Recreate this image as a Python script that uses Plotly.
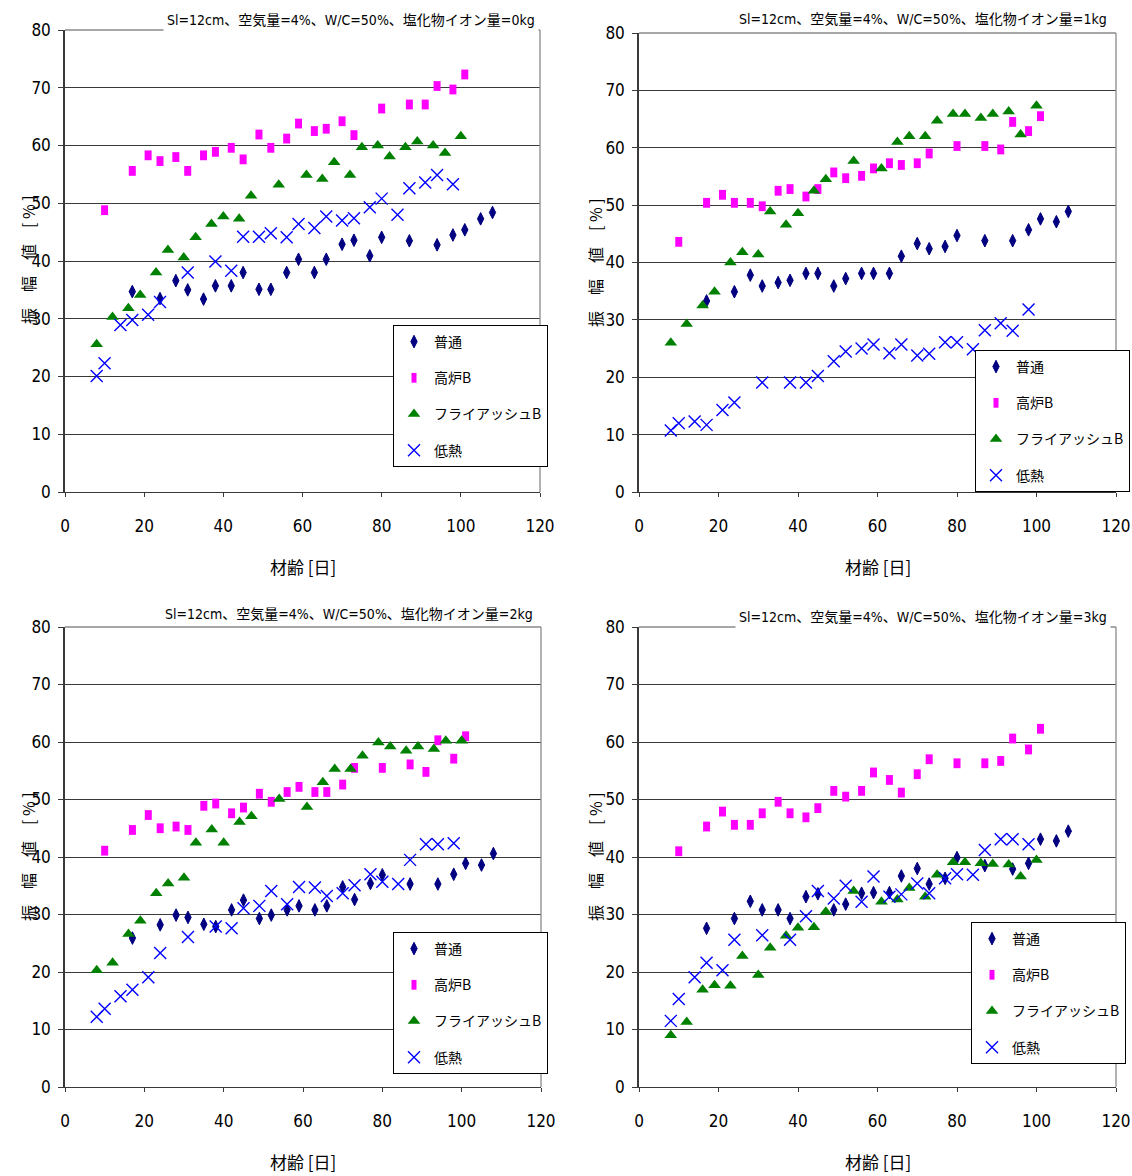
import plotly.graph_objects as go

# Ages (days) for each series
age_futsu = [17, 24, 28, 31, 35, 38, 42, 45, 49, 52, 56, 59, 63, 66, 70, 73, 77, 80, 87, 94, 98, 101, 105, 108]
age_kouro = [10, 17, 21, 24, 28, 31, 35, 38, 42, 45, 49, 52, 56, 59, 63, 66, 70, 73, 80, 87, 91, 94, 98, 101]
age_fly = [8, 12, 16, 19, 23, 26, 30, 33, 37, 40, 44, 47, 54, 61, 65, 68, 72, 75, 79, 82, 86, 89, 93, 96, 100]
age_teinetsu = [8, 10, 14, 17, 21, 24, 31, 38, 42, 45, 49, 52, 56, 59, 63, 66, 70, 73, 77, 80, 84, 87, 91, 94, 98]

# Chloride 0 kg
c0_futsu = [34.7, 33.5, 36.6, 35.0, 33.4, 35.7, 35.7, 38.0, 35.1, 35.1, 38.0, 40.3, 38.0, 40.3, 42.9, 43.6, 40.9, 44.1, 43.5, 42.8, 44.5, 45.4, 47.3, 48.4]
c0_kouro = [48.8, 55.6, 58.3, 57.3, 58.0, 55.6, 58.3, 58.9, 59.6, 57.6, 61.9, 59.6, 61.2, 63.8, 62.5, 62.9, 64.2, 61.8, 66.4, 67.1, 67.1, 70.3, 69.7, 72.3]
c0_fly = [25.6, 30.3, 31.8, 34.1, 38.0, 41.9, 40.6, 44.1, 46.4, 47.7, 47.3, 51.3, 53.2, 54.9, 54.2, 57.1, 54.9, 59.7, 60.0, 58.1, 59.7, 60.7, 60.0, 58.7, 61.6]
c0_teinetsu = [20.1, 22.3, 28.9, 29.8, 30.7, 32.9, 38.0, 39.9, 38.3, 44.2, 44.2, 44.8, 44.1, 46.4, 45.7, 47.7, 47.0, 47.4, 49.3, 50.8, 48.0, 52.6, 53.6, 54.9, 53.3]

# Chloride 1 kg
c1_futsu = [33.3, 34.9, 37.8, 35.9, 36.5, 36.9, 38.1, 38.1, 35.9, 37.2, 38.1, 38.1, 38.1, 41.1, 43.3, 42.4, 42.8, 44.7, 43.8, 43.8, 45.7, 47.6, 47.1, 48.9]
c1_kouro = [43.6, 50.4, 51.8, 50.4, 50.4, 49.8, 52.5, 52.8, 51.5, 52.8, 55.7, 54.7, 55.1, 56.4, 57.3, 57.0, 57.3, 59.0, 60.3, 60.3, 59.7, 64.5, 62.9, 65.5]
c1_fly = [26.0, 29.3, 32.5, 34.9, 40.0, 41.8, 41.4, 48.9, 46.6, 48.6, 52.5, 54.5, 57.7, 56.4, 61.0, 62.0, 62.0, 64.7, 65.9, 65.9, 65.2, 65.9, 66.3, 62.3, 67.3]
c1_teinetsu = [10.7, 12.0, 12.3, 11.7, 14.3, 15.6, 19.1, 19.1, 19.1, 20.2, 22.8, 24.5, 25.0, 25.7, 24.2, 25.7, 23.8, 24.1, 26.1, 26.1, 24.9, 28.2, 29.4, 28.1, 31.8]

# Chloride 2 kg
c2_futsu = [25.9, 28.2, 29.9, 29.5, 28.3, 27.9, 30.8, 32.5, 29.3, 29.9, 30.8, 31.5, 30.8, 31.5, 34.8, 32.6, 35.4, 36.9, 35.3, 35.3, 37.0, 38.9, 38.6, 40.6]
c2_kouro = [41.1, 44.7, 47.3, 45.0, 45.3, 44.7, 48.9, 49.3, 47.6, 48.6, 51.0, 49.6, 51.3, 52.2, 51.3, 51.3, 52.6, 55.5, 55.5, 56.1, 54.8, 60.3, 57.1, 61.0]
c2_fly = [20.3, 21.6, 26.6, 28.9, 33.7, 35.4, 36.4, 42.5, 44.8, 42.5, 46.1, 47.1, 50.1, 48.7, 53.0, 55.3, 55.3, 57.6, 59.9, 59.2, 58.5, 59.2, 58.8, 60.2, 60.2]
c2_teinetsu = [12.2, 13.6, 15.8, 16.9, 19.1, 23.3, 26.1, 27.9, 27.6, 31.1, 31.5, 34.1, 31.8, 34.8, 34.7, 33.2, 33.7, 35.1, 37.0, 35.7, 35.3, 39.5, 42.2, 42.2, 42.4]

# Chloride 3 kg
c3_futsu = [27.6, 29.3, 32.3, 30.8, 30.8, 29.3, 33.1, 33.6, 30.8, 31.8, 33.7, 33.8, 33.8, 36.7, 38.0, 35.3, 36.3, 39.9, 38.5, 37.9, 38.9, 43.1, 42.8, 44.5]
c3_kouro = [41.0, 45.3, 47.9, 45.6, 45.6, 47.6, 49.6, 47.6, 46.9, 48.5, 51.5, 50.5, 51.5, 54.7, 53.4, 51.2, 54.4, 57.0, 56.3, 56.3, 56.7, 60.6, 58.7, 62.3]
c3_fly = [9.0, 11.3, 16.9, 17.7, 17.6, 22.8, 19.5, 24.2, 26.3, 27.7, 27.8, 30.5, 34.1, 32.2, 32.6, 34.6, 33.1, 36.9, 39.1, 39.1, 38.9, 38.8, 38.7, 36.6, 39.5]
c3_teinetsu = [11.5, 15.3, 19.1, 21.6, 20.3, 25.6, 26.4, 25.6, 29.7, 34.1, 32.8, 35.0, 32.2, 36.6, 33.1, 33.5, 35.4, 33.7, 36.3, 37.0, 36.9, 41.2, 43.1, 43.1, 42.2]

series_names = ["普通", "高炉B", "フライアッシュB", "低熱"]
chloride_labels = ["0kg", "1kg", "2kg", "3kg"]
x_ticks = [0, 20, 40, 60, 80, 100, 120]
y_ticks = [0, 10, 20, 30, 40, 50, 60, 70, 80]

panel_values = [
    [c0_futsu, c0_kouro, c0_fly, c0_teinetsu],
    [c1_futsu, c1_kouro, c1_fly, c1_teinetsu],
    [c2_futsu, c2_kouro, c2_fly, c2_teinetsu],
    [c3_futsu, c3_kouro, c3_fly, c3_teinetsu],
]
series_ages = [age_futsu, age_kouro, age_fly, age_teinetsu]

W, H = 1132, 1176
NUM_FONT = "DejaVu Sans Condensed, Liberation Sans Narrow, Noto Sans CJK JP, sans-serif"
JP_FONT = "Noto Sans CJK JP, DejaVu Sans Condensed, sans-serif"

# plot-area boxes in pixels: (left, right, top, bottom)
boxes = [
    (65, 540, 30, 492),
    (639, 1116, 33, 492),
    (65, 541, 627, 1087),
    (639, 1116, 627, 1087),
]
# legend boxes: right edge and top edge in pixels
legend_pos = [(548, 325), (1130, 350), (548, 932), (1126, 922)]
title_right = [(539, 20), (1111, 19), (537, 614), (1111, 617)]


def px_x(p):
    return p / W


def px_y(p):
    return 1 - p / H


markers = [
    dict(symbol="diamond-tall", size=9, color="#000080", line=dict(width=1, color="#000080")),
    dict(symbol="line-ns", size=7, color="#FF00FF", line=dict(width=7, color="#FF00FF")),
    dict(symbol="triangle-up", size=11, color="#008000", line=dict(width=0)),
    dict(symbol="x-thin-open", size=12, color="#0000FF", line=dict(width=1.4, color="#0000FF")),
]

fig = go.Figure()
layout = dict(
    width=W, height=H,
    margin=dict(l=0, r=0, t=0, b=0, autoexpand=False),
    paper_bgcolor="white", plot_bgcolor="white",
    showlegend=True,
    annotations=[], shapes=[],
)

for i in range(4):
    sfx = "" if i == 0 else str(i + 1)
    xa, ya = "x" + sfx, "y" + sfx
    leg = "legend" + sfx
    l, r, t, b = boxes[i]

    for k in range(4):
        fig.add_trace(go.Scatter(
            x=series_ages[k], y=panel_values[i][k],
            mode="markers", name=series_names[k],
            marker=markers[k],
            xaxis=xa, yaxis=ya, legend=leg,
            legendgroup=f"p{i}_{k}",
        ))

    axis_font = dict(family=NUM_FONT, size=17, color="black")
    layout["xaxis" + sfx] = dict(
        domain=[px_x(l), px_x(r)], anchor=ya, range=[0, 120],
        tickvals=x_ticks, ticktext=[str(v) for v in x_ticks],
        showgrid=False, zeroline=False,
        showline=True, linecolor="#3a3a3a", linewidth=1.3,
        ticks="outside", ticklen=4, tickcolor="#3a3a3a",
        tickfont=axis_font, ticklabelstandoff=14,
    )
    layout["yaxis" + sfx] = dict(
        domain=[px_y(b), px_y(t)], anchor=xa, range=[0, 80],
        tickvals=y_ticks, ticktext=[str(v) for v in y_ticks],
        showgrid=True, gridcolor="#3a3a3a", gridwidth=1,
        zeroline=False,
        showline=True, linecolor="#3a3a3a", linewidth=1.5,
        ticks="outside", ticklen=5, tickcolor="#3a3a3a",
        tickfont=axis_font, ticklabelstandoff=4,
    )

    # grey frame on top and right
    layout["shapes"].append(dict(type="line", xref=xa + " domain", yref=ya + " domain",
                                 x0=0, x1=1, y0=1, y1=1, line=dict(color="#8a8a8a", width=1.3), layer="above"))
    layout["shapes"].append(dict(type="line", xref=xa + " domain", yref=ya + " domain",
                                 x0=1, x1=1, y0=0, y1=1, line=dict(color="#8a8a8a", width=1.3), layer="above"))

    lx, ly = legend_pos[i]
    layout[leg] = dict(
        x=px_x(lx), y=px_y(ly), xanchor="right", yanchor="top",
        bgcolor="white", bordercolor="black", borderwidth=1,
        font=dict(family=JP_FONT, size=14, color="black"),
        tracegroupgap=15, itemwidth=30,
    )

    tx, ty = title_right[i]
    layout["annotations"].append(dict(
        text=f"Sl=12cm、空気量=4%、W/C=50%、塩化物イオン量={chloride_labels[i]}",
        xref="paper", yref="paper", x=px_x(tx), y=px_y(ty),
        xanchor="right", yanchor="middle", showarrow=False,
        bgcolor="white", borderpad=3,
        font=dict(family=NUM_FONT, size=14, color="black"),
    ))
    # axis titles
    layout["annotations"].append(dict(
        text="材齢 [日]", xref="paper", yref="paper",
        x=px_x((l + r) / 2), y=px_y(b + 74), xanchor="center", yanchor="middle",
        showarrow=False, font=dict(family=JP_FONT, size=17, color="black"),
    ))
    layout["annotations"].append(dict(
        text="振　幅　値　[ % ]", xref="paper", yref="paper",
        x=px_x(l - 37 if i % 2 == 0 else l - 44), y=px_y(t + 230),
        xanchor="center", yanchor="middle", textangle=-90,
        showarrow=False, font=dict(family=JP_FONT, size=16, color="black"),
    ))

fig.update_layout(**layout)
fig.write_html("out.html")
